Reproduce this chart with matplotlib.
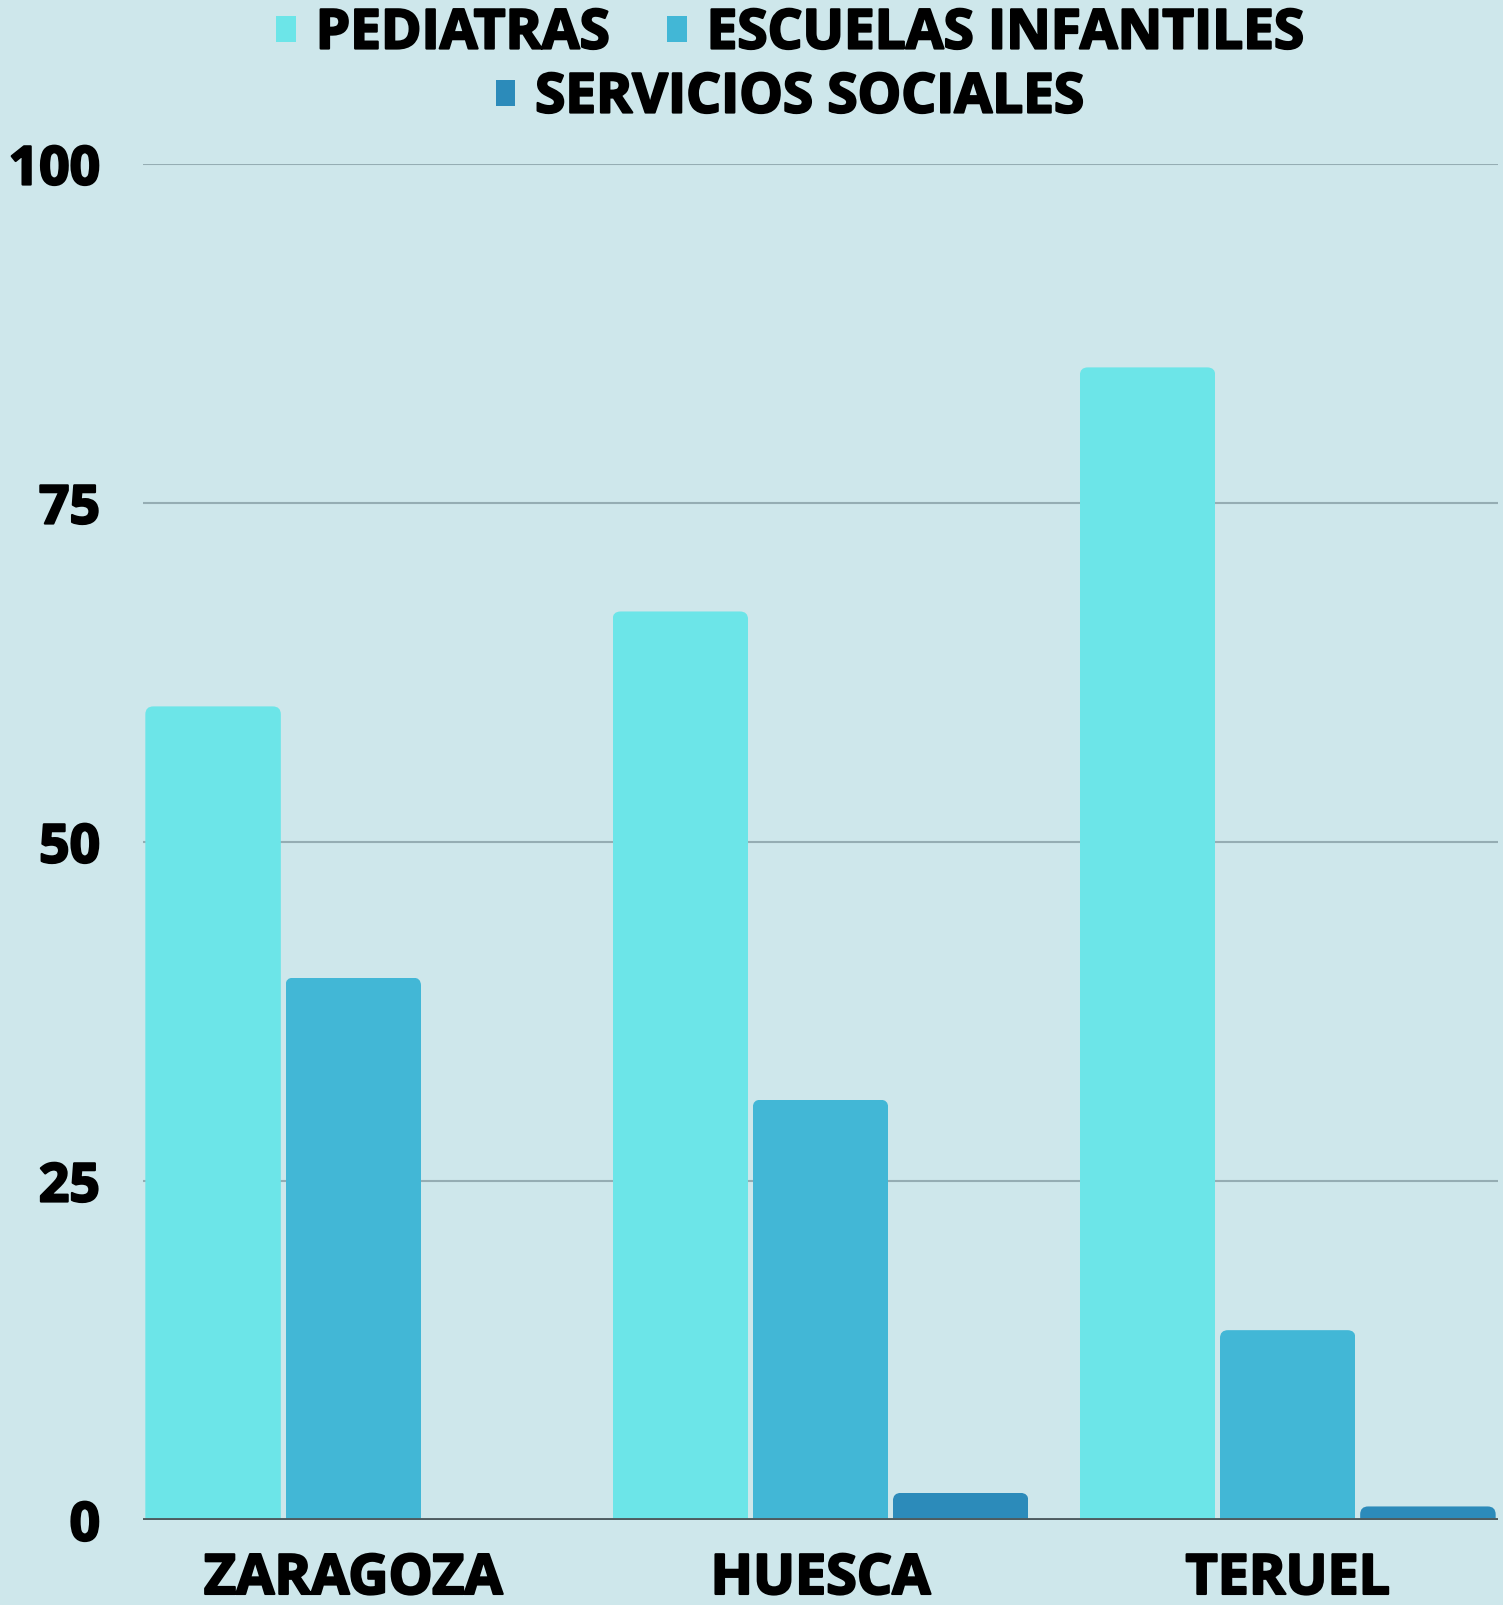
import matplotlib
matplotlib.use("Agg")
import matplotlib.pyplot as plt
import matplotlib.patheffects as pe
from matplotlib.patches import FancyBboxPatch, Patch
import numpy as np

categories = ["ZARAGOZA", "HUESCA", "TERUEL"]
series_names = ["PEDIATRAS", "ESCUELAS INFANTILES", "SERVICIOS SOCIALES"]
pediatras = [60, 67, 85]
escuelas = [40, 31, 14]
servicios = [0, 2, 1]
y_ticks = [0, 25, 50, 75, 100]

colors = ["#6CE5E8", "#42B7D6", "#2C8BBA"]
bg = "#CEE7EB"

plt.rcParams['font.family'] = ['Open Sans', 'DejaVu Sans']
W, H = 1503, 1606
fig = plt.figure(figsize=(W / 100, H / 100), dpi=100, facecolor=bg)
ax = fig.add_axes([143 / W, 1 - 1521 / H, (1498 - 143) / W, (1521 - 165) / H])
ax.set_facecolor(bg)

x = np.arange(len(categories))
step, w = 0.3, 0.29
ax.set_xlim(-0.45, 2.45)
ax.set_ylim(0, 100)

containers = []
for i, (vals, c, name) in enumerate(zip([pediatras, escuelas, servicios], colors, series_names)):
    b = ax.bar(x + (i - 1) * step, vals, width=w, color=c, label=name, zorder=2, linewidth=0)
    containers.append(b)

ax.set_axisbelow(True)
ax.yaxis.grid(True, color="#95ADB3", lw=1.5, zorder=0)
ax.axhline(0, color="#4E5C60", lw=2.8, zorder=3)
for s in ax.spines.values():
    s.set_visible(False)

heavy = [pe.withStroke(linewidth=1.6, foreground='black')]

ax.set_yticks(y_ticks)
ax.set_yticklabels([str(t) for t in y_ticks], fontsize=38.5, fontweight='bold')
ax.set_xticks(x)
ax.set_xticklabels(categories, fontsize=40, fontweight='bold')
ax.tick_params(axis='y', length=0, pad=31)
ax.tick_params(axis='x', length=0, pad=23)
for t in ax.get_xticklabels() + ax.get_yticklabels():
    t.set_path_effects(heavy)

# rounded top corners
fig.canvas.draw()
p0 = ax.transData.transform((0, 0))
p1 = ax.transData.transform((1, 1))
px_x = p1[0] - p0[0]
px_y = p1[1] - p0[1]
aspect = px_x / px_y
r = 8 / px_x
for cont in containers:
    for rect in cont.patches:
        if rect.get_height() <= 0:
            continue
        clip = FancyBboxPatch((rect.get_x(), -10), rect.get_width(), rect.get_height() + 10,
                              boxstyle=f"round,pad=0,rounding_size={r}",
                              mutation_aspect=aspect, transform=ax.transData)
        rect.set_clip_path(clip)

handles = [Patch(facecolor=c, edgecolor='none') for c in colors]
common = dict(frameon=False, prop={'size': 39.5, 'weight': 'bold'}, handlelength=0.36,
              handleheight=0.36, handletextpad=0.36, columnspacing=1.05, loc='center',
              borderpad=0, borderaxespad=0)
leg1 = fig.legend(handles[:2], series_names[:2], ncol=2, bbox_to_anchor=(790 / W, 1 - 35 / H), **common)
leg2 = fig.legend(handles[2:], series_names[2:], ncol=1, bbox_to_anchor=(790 / W, 1 - 99 / H), **common)
for leg in (leg1, leg2):
    for t in leg.get_texts():
        t.set_path_effects(heavy)

fig.savefig("out.png", dpi=100, facecolor=bg)
